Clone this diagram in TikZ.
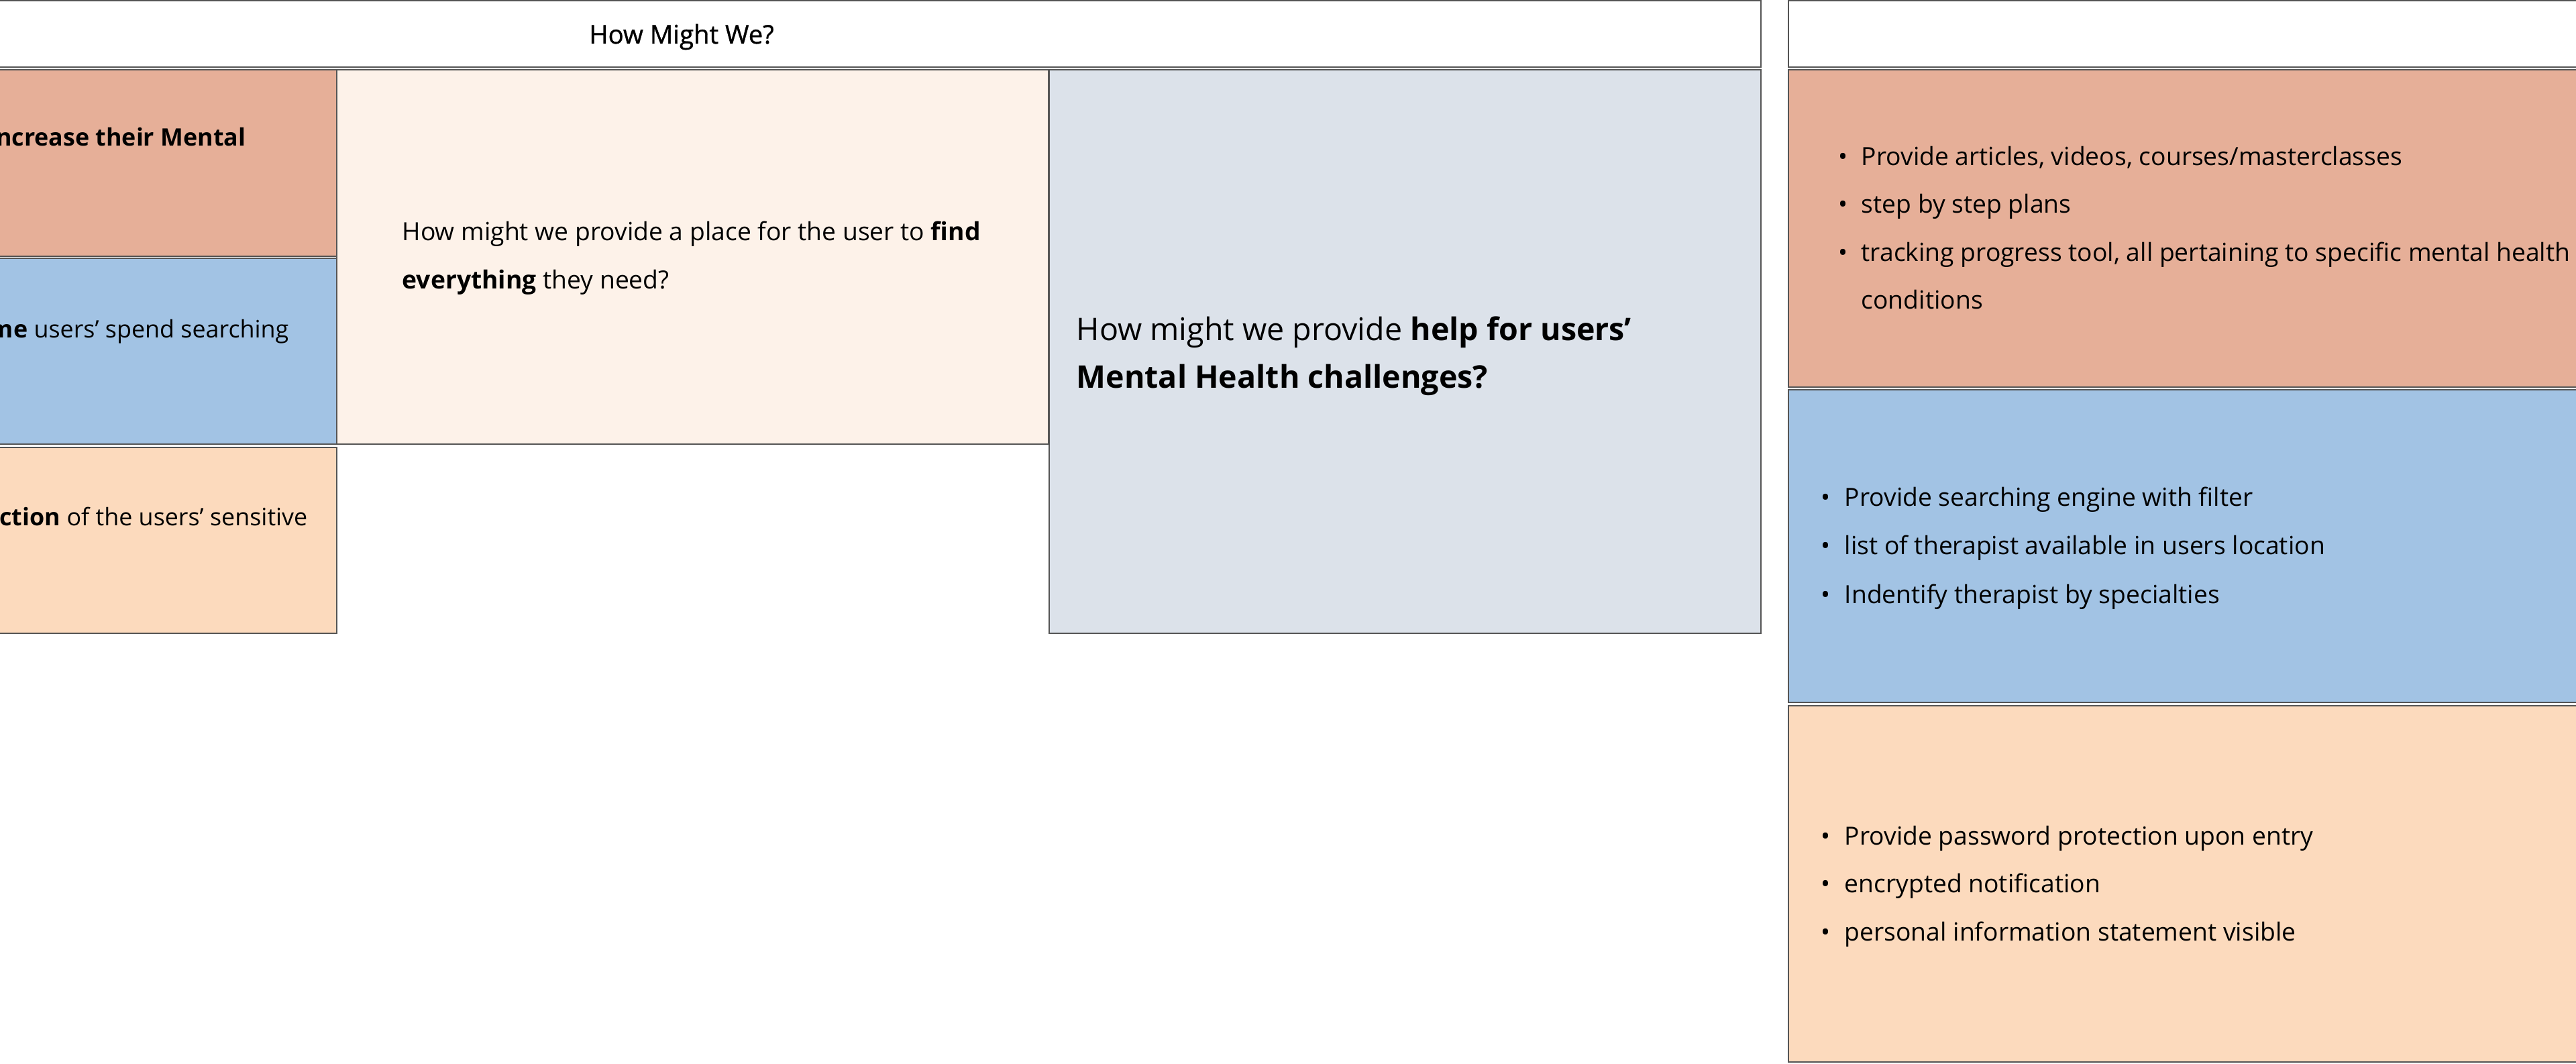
\documentclass[tikz,border=0pt]{standalone}
\usepackage{fontspec}
\setmainfont{Open Sans}
\newfontfamily\hmwtitlefont[FakeBold=1]{Open Sans}

\definecolor{hmworange}{RGB}{230,175,152}
\definecolor{hmwblue}{RGB}{162,195,228}
\definecolor{hmwpeach}{RGB}{252,218,189}
\definecolor{hmwcream}{RGB}{253,242,233}
\definecolor{hmwgrey}{RGB}{220,226,234}
\definecolor{hmwline}{RGB}{85,85,85}

\tikzset{
  hmwbox/.style={draw=hmwline,line width=.6pt},
  hmwtext/.style={anchor=base west,inner sep=0pt,font=\fontsize{10.6}{20.3}\selectfont},
  hmwcut/.style={anchor=base east,inner sep=0pt,font=\fontsize{10.2}{20.3}\selectfont},
  hmwbig/.style={anchor=base west,inner sep=0pt,font=\fontsize{13.25}{20.3}\selectfont},
  hmwdot/.style={anchor=base west,inner sep=0pt,font=\fontsize{10.6}{20.3}\selectfont}
}

\begin{document}
\begin{tikzpicture}[x=1cm,y=1cm]
\useasboundingbox (0,0) rectangle (38.4,15.85);
\clip (0,0) rectangle (38.4,15.85);
% header bars
\filldraw[hmwbox,fill=white] (-0.2,15.84) rectangle (26.25,14.85);
\filldraw[hmwbox,fill=white] (26.66,15.84) rectangle (38.6,14.85);
% left column
\filldraw[hmwbox,fill=hmworange] (-0.2,14.81) rectangle (5.02,12.03);
\filldraw[hmwbox,fill=hmwblue] (-0.2,12.00) rectangle (5.02,9.23);
\filldraw[hmwbox,fill=hmwpeach] (-0.2,9.18) rectangle (5.02,6.41);
% middle
\filldraw[hmwbox,fill=hmwcream] (5.02,14.81) rectangle (15.63,9.23);
\filldraw[hmwbox,fill=hmwgrey] (15.64,14.81) rectangle (26.25,6.41);
% right column
\filldraw[hmwbox,fill=hmworange] (26.66,14.81) rectangle (38.6,10.08);
\filldraw[hmwbox,fill=hmwblue] (26.66,10.04) rectangle (38.6,5.38);
\filldraw[hmwbox,fill=hmwpeach] (26.66,5.33) rectangle (38.6,0.02);

\node[anchor=base,inner sep=0pt,font=\fontsize{10.9}{12}\hmwtitlefont] (title) at (10.16,15.20) {How Might We?};

\node[hmwcut] (mental) at (3.67,13.67) {\textbf{increase their Mental}};
\node[hmwcut] (search) at (4.31,10.81) {\textbf{time} users’ spend searching};
\node[hmwcut] (privacy) at (4.59,8.01) {\textbf{protection} of the users’ sensitive};

\node[hmwtext] (find1) at (5.99,12.26) {How might we provide a place for the user to \textbf{find}};
\node[hmwtext] (find2) at (5.99,11.54) {\textbf{everything} they need?};

\node[hmwbig] (help1) at (16.04,10.77) {How might we provide \textbf{help for users’}};
\node[hmwbig] (help2) at (16.04,10.06) {\textbf{Mental Health challenges?}};

% ideas
\foreach \y/\t [count=\i] in {13.38/{Provide articles, videos, courses/masterclasses},
    12.67/{step by step plans},
    11.95/{tracking progress tool, all pertaining to specific mental health}}
  {\node[hmwdot] (odot\i) at (27.40,\y) {•};
   \node[hmwtext] (oidea\i) at (27.74,\y) {\t};}
\node[hmwtext] (oidea4) at (27.74,11.24) {conditions};

\foreach \y/\t [count=\i] in {8.30/{Provide searching engine with filter},
    7.58/{list of therapist available in users location},
    6.85/{Indentify therapist by specialties}}
  {\node[hmwdot] (bdot\i) at (27.14,\y) {•};
   \node[hmwtext] (bidea\i) at (27.49,\y) {\t};}

\foreach \y/\t [count=\i] in {3.25/{Provide password protection upon entry},
    2.54/{encrypted notification},
    1.82/{personal information statement visible}}
  {\node[hmwdot] (pdot\i) at (27.14,\y) {•};
   \node[hmwtext] (pidea\i) at (27.49,\y) {\t};}
\end{tikzpicture}
\end{document}
